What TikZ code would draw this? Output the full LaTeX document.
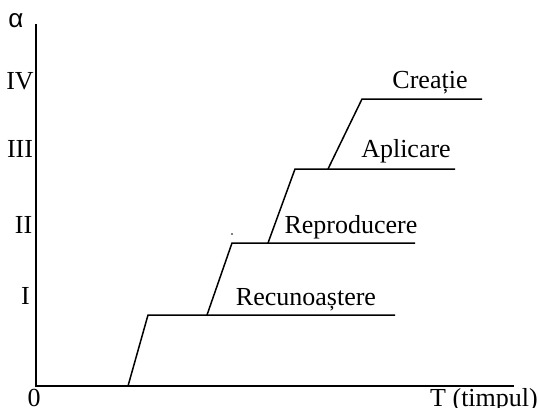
\documentclass[tikz,border=0pt]{standalone}
\usepackage{fontspec}
\setmainfont{Liberation Serif}
\newfontfamily\alphafont{Liberation Sans}
\begin{document}
\begin{tikzpicture}[x=1pt,y=-1pt,
  ln/.style={line width=1.5pt},
  lbl/.style={font=\fontsize{26}{28}\selectfont, inner sep=0pt, anchor=base}]
\useasboundingbox (0,0) rectangle (538,407);
% axes
\coordinate (ytop) at (36,24);
\coordinate (o) at (36,386);
\coordinate (xend) at (514,386);
\draw[ln] (ytop) -- (o) -- (xend);
% steps
\coordinate (a0) at (128,386); \coordinate (a1) at (148,315); \coordinate (a2) at (395,315);
\coordinate (b0) at (207,315); \coordinate (b1) at (232,243); \coordinate (b2) at (415,243);
\coordinate (c0) at (268,243); \coordinate (c1) at (295,169); \coordinate (c2) at (455,169);
\coordinate (d0) at (328,169); \coordinate (d1) at (362,99);  \coordinate (d2) at (482,99);
\draw[ln] (a0) -- (a1) -- (a2);
\draw[ln] (b0) -- (b1) -- (b2);
\draw[ln] (c0) -- (c1) -- (c2);
\draw[ln] (d0) -- (d1) -- (d2);
\fill (232,234) circle (0.9pt);
% labels
\node[lbl] (l1) at (306,305) {Recunoaștere};
\node[lbl] (l2) at (351,233) {Reproducere};
\node[lbl] (l3) at (406,157) {Aplicare};
\node[lbl] (l4) at (430,88) {Creație};
\node[lbl] (yi) at (25.5,304) {I};
\node[lbl] (yii) at (23.5,233) {II};
\node[lbl] (yiii) at (20,157) {III};
\node[lbl] (yiv) at (20,89) {IV};
\node[lbl,font=\alphafont\fontsize{26}{28}\selectfont] (al) at (16,27) {α};
\node[lbl] (zero) at (34,406) {0};
\node[lbl] (tl) at (484,406) {T (timpul)};
\end{tikzpicture}
\end{document}
